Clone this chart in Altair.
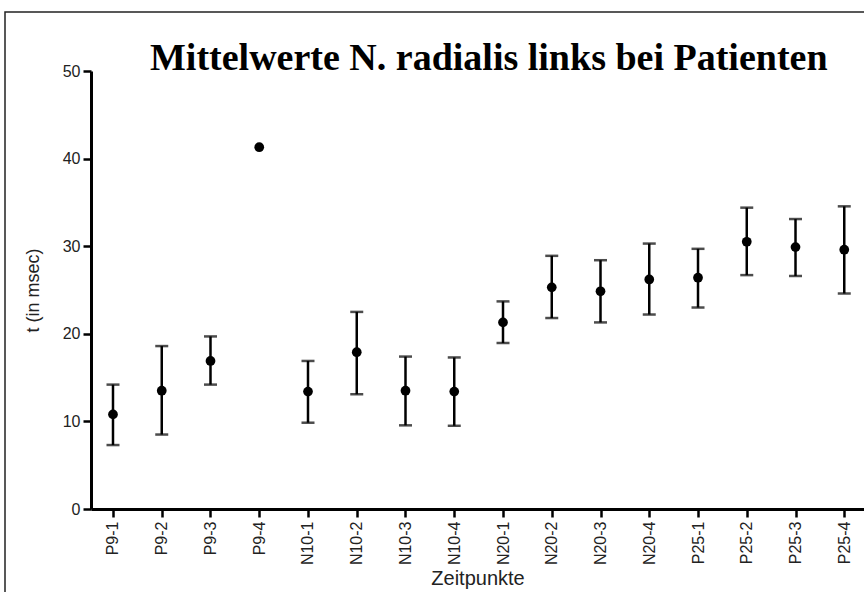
import altair as alt
import pandas as pd
import numpy as np

categories = ["P9-1", "P9-2", "P9-3", "P9-4", "N10-1", "N10-2", "N10-3", "N10-4",
              "N20-1", "N20-2", "N20-3", "N20-4", "P25-1", "P25-2", "P25-3", "P25-4"]
means = [10.8, 13.5, 16.9, 41.3, 13.4, 17.9, 13.5, 13.4,
         21.3, 25.3, 24.85, 26.2, 26.4, 30.5, 29.9, 29.6]
lower = [7.3, 8.5, 14.2, np.nan, 9.85, 13.1, 9.55, 9.5,
         18.95, 21.8, 21.3, 22.2, 23.0, 26.7, 26.6, 24.6]
upper = [14.2, 18.6, 19.7, np.nan, 16.9, 22.5, 17.4, 17.3,
         23.7, 28.9, 28.4, 30.3, 29.7, 34.4, 33.1, 34.55]
y_ticks = [0, 10, 20, 30, 40, 50]

df = pd.DataFrame({"cat": categories, "mean": means, "lo": lower, "hi": upper})

x_enc = alt.X("cat:N", sort=categories,
              scale=alt.Scale(type="point", padding=0.428, align=0.527),
              axis=alt.Axis(title="Zeitpunkte", labelAngle=-90, labelPadding=4,
                            titlePadding=4, titleFontSize=20, tickSize=8))
y_scale = alt.Scale(domain=[0, 50], nice=False, zero=True)

base = alt.Chart(df)

points = base.mark_circle(size=95, color="black", opacity=1).encode(
    x=x_enc,
    y=alt.Y("mean:Q", scale=y_scale,
            axis=alt.Axis(title="t (in msec)", values=y_ticks, tickSize=8,
                          labelPadding=3, titlePadding=20, titleFontSize=18)),
)
bars = base.mark_rule(color="black", strokeWidth=2.5).encode(
    x=alt.X("cat:N", sort=categories), y=alt.Y("lo:Q", scale=y_scale), y2="hi:Q"
)
cap_lo = base.mark_tick(color="black", thickness=2.5, size=13).encode(
    x=alt.X("cat:N", sort=categories), y=alt.Y("lo:Q", scale=y_scale)
)
cap_hi = base.mark_tick(color="black", thickness=2.5, size=13).encode(
    x=alt.X("cat:N", sort=categories), y=alt.Y("hi:Q", scale=y_scale)
)
frame = alt.Chart(pd.DataFrame({"d": [0]})).mark_rect(
    fill=None, stroke="#222", strokeWidth=1.5
).encode(x=alt.value(-86), x2=alt.value(900), y=alt.value(-59), y2=alt.value(700))

chart = alt.layer(frame, bars, cap_lo, cap_hi, points).properties(
    width=773, height=438,
    autosize=alt.AutoSizeParams(type="none"),
    padding={"left": 91, "top": 71, "right": 0, "bottom": 83},
    title=alt.TitleParams(
        "Mittelwerte N. radialis links bei Patienten",
        font="Liberation Serif", fontSize=38, fontWeight="bold", color="black",
        anchor="start", frame="group", baseline="alphabetic", offset=0, dx=59, dy=97,
    ),
).configure_view(stroke=None).configure_axis(
    grid=False, domainColor="black", domainWidth=3, tickColor="black", tickWidth=2.5,
    labelFont="Liberation Sans", labelFontSize=16, labelColor="#222",
    titleFont="Liberation Sans", titleFontWeight="normal",
    titleColor="#222",
)

chart.save("out.html", embed_options={"renderer": "svg", "actions": False})
